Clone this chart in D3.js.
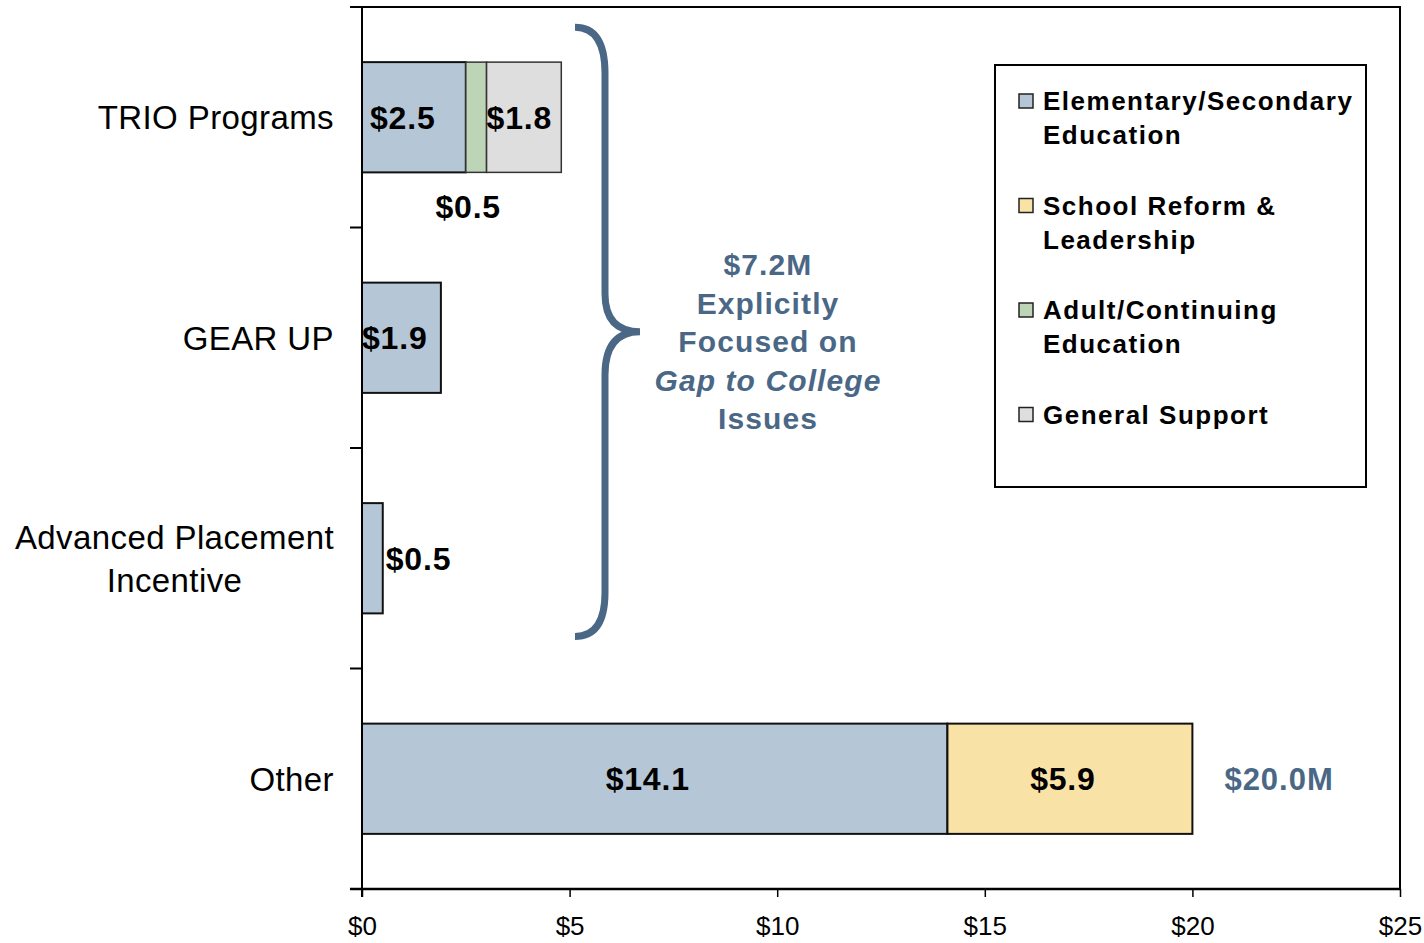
<!DOCTYPE html>
<html>
<head>
<meta charset="utf-8">
<script src="https://cdn.jsdelivr.net/npm/d3@7"></script>
<style>
  html, body { margin: 0; padding: 0; background: #fff; }
  svg text { font-family: 'Liberation Sans', Arial, sans-serif; }
</style>
</head>
<body>
<div id="chart"></div>
<script>
// --- data ---
const categories = ['TRIO Programs', 'GEAR UP', 'Advanced Placement Incentive', 'Other'];
const categoryLines = [['TRIO Programs'], ['GEAR UP'], ['Advanced Placement', 'Incentive'], ['Other']];
const seriesKeys = ['elemSec', 'reform', 'adult', 'general'];
const seriesLabels = [
    ['Elementary/Secondary', 'Education'],
    ['School Reform &', 'Leadership'],
    ['Adult/Continuing', 'Education'],
    ['General Support']
];
const seriesColors = ['#B5C6D6', '#F9E2A6', '#BDD5B6', '#DEDEDE'];
const elemSec = [2.5, 1.9, 0.5, 14.1];
const reform = [0, 0, 0, 5.9];
const adult = [0.5, 0, 0, 0];
const general = [1.8, 0, 0, 0];
const xTicks = [0, 5, 10, 15, 20, 25];
const gapGroups = ['TRIO Programs', 'GEAR UP', 'Advanced Placement Incentive'];

const W = 1424, H = 943;
const margin = {top: 7, right: 24, bottom: 54, left: 362};
const blue = '#4A6886';

const svg = d3.select('#chart').append('svg')
    .attr('width', W).attr('height', H);

const x = d3.scaleLinear().domain([0, 25]).range([margin.left, W - margin.right]);
const y = d3.scaleBand().domain(categories)
    .range([margin.top, H - margin.bottom])
    .paddingInner(0.5).paddingOuter(0.25);

const rows = categories.map((c, i) => ({
    cat: c, elemSec: elemSec[i], reform: reform[i], adult: adult[i], general: general[i]
}));
const stack = d3.stack().keys(seriesKeys)(rows);

// plot frame
svg.append('rect')
    .attr('x', x(0)).attr('y', margin.top)
    .attr('width', x(25) - x(0)).attr('height', H - margin.bottom - margin.top)
    .attr('fill', 'none').attr('stroke', '#000').attr('stroke-width', 2);

// bars
stack.forEach((layer, si) => {
    svg.append('g').selectAll('rect')
        .data(layer.filter(d => d[1] - d[0] > 0))
        .join('rect')
        .attr('x', d => x(d[0]))
        .attr('y', d => y(d.data.cat))
        .attr('width', d => x(d[1]) - x(d[0]))
        .attr('height', y.bandwidth())
        .attr('fill', seriesColors[si])
        .attr('stroke', si >= 2 ? '#333' : '#111')
        .attr('stroke-width', si >= 2 ? 1.5 : 2);
});

// value labels
const fmt = v => '$' + d3.format('.1f')(v);
stack.forEach((layer, si) => {
    layer.filter(d => d[1] - d[0] > 0).forEach(d => {
        const v = d[1] - d[0];
        const x0 = x(d[0]), x1 = x(d[1]);
        const yc = y(d.data.cat) + y.bandwidth() / 2;
        const nSeg = seriesKeys.filter(k => d.data[k] > 0).length;
        let tx, ty = yc, anchor = 'start';
        if (x1 - x0 > 150) { tx = (x0 + x1) / 2 - 7; anchor = 'middle'; }
        else if (x1 - x0 < 40 && nSeg === 1) { tx = x1 + 3; }
        else if (x1 - x0 < 40) { tx = (x0 + x1) / 2 - 8; anchor = 'middle'; ty = y(d.data.cat) + y.bandwidth() + 34; }
        else { tx = x0 + (nSeg > 1 && d[0] === 0 ? 8 : 0); }
        svg.append('text')
            .attr('x', tx).attr('y', ty).attr('dy', '0.36em')
            .attr('text-anchor', anchor)
            .style('font-size', '32px').style('font-weight', 'bold')
            .style('letter-spacing', '0.8px')
            .text(fmt(v));
    });
});

// x axis
const xAxis = svg.append('g')
    .attr('transform', `translate(0,${H - margin.bottom})`)
    .call(d3.axisBottom(x).tickValues(xTicks).tickFormat(d => '$' + d).tickSize(8).tickPadding(20));
xAxis.select('.domain').attr('d', `M${x(0) - 12},0H${x(25)}`).attr('stroke-width', 2.5);
xAxis.selectAll('.tick line').attr('stroke-width', 1.5);
xAxis.selectAll('text').style('font-size', '26px').style('font-family', "'Liberation Sans', Arial, sans-serif").attr('fill', '#000');

// y axis: ticks at band boundaries
const step = y.step();
const bounds = categories.map(c => y(c) - step * 0.25).concat([H - margin.bottom]);
svg.append('g').selectAll('line').data(bounds).join('line')
    .attr('x1', x(0) - 12).attr('x2', x(0))
    .attr('y1', d => d).attr('y2', d => d)
    .attr('stroke', '#000').attr('stroke-width', 2);
svg.append('line')
    .attr('x1', x(0)).attr('x2', x(0))
    .attr('y1', margin.top).attr('y2', H - margin.bottom + 8)
    .attr('stroke', '#000').attr('stroke-width', 2);

// category labels
categoryLines.forEach((lines, i) => {
    const yc = y(categories[i]) + y.bandwidth() / 2;
    const lh = 43;
    const g = svg.append('g');
    const texts = lines.map((ln, j) => g.append('text')
        .attr('y', yc + (j - (lines.length - 1) / 2) * lh).attr('dy', '0.36em')
        .attr('text-anchor', 'middle')
        .style('font-size', '33px')
        .style('letter-spacing', '0.4px')
        .text(ln));
    const maxW = d3.max(texts, t => t.node().getComputedTextLength());
    texts.forEach(t => t.attr('x', 334 - maxW / 2));
});

// brace around the gap-to-college programs
const bTop = y(gapGroups[0]) - 35;
const bBot = y(gapGroups[gapGroups.length - 1]) + y.bandwidth() + 23;
const bMid = (bTop + bBot) / 2;
const bx0 = 575, bx1 = 605, bx2 = 640;
svg.append('path')
    .attr('d', `M${bx0},${bTop} Q${bx1},${bTop} ${bx1},${bTop + 46} L${bx1},${bMid - 38} Q${bx1},${bMid} ${bx2},${bMid} ` +
        `Q${bx1},${bMid} ${bx1},${bMid + 43} L${bx1},${bBot - 44} Q${bx1},${bBot} ${bx0},${bBot}`)
    .attr('fill', 'none').attr('stroke', blue).attr('stroke-width', 7).attr('stroke-linecap', 'butt');

// annotation text
const gapTotal = d3.sum(rows.filter(r => gapGroups.includes(r.cat)), r => r.elemSec + r.reform + r.adult + r.general);
const annoLines = [['$' + gapTotal.toFixed(1) + 'M', false], ['Explicitly', false], ['Focused on', false], ['Gap to College', true], ['Issues', false]];
annoLines.forEach(([t, it], i) => {
    svg.append('text')
        .attr('x', 768).attr('y', 275 + i * 38.5)
        .attr('text-anchor', 'middle')
        .style('font-size', '30px').style('font-weight', 'bold')
        .style('font-style', it ? 'italic' : 'normal')
        .style('letter-spacing', '1.1px')
        .attr('fill', blue)
        .text(t);
});

// Other total
const otherRow = rows[rows.length - 1];
const otherTotal = otherRow.elemSec + otherRow.reform + otherRow.adult + otherRow.general;
svg.append('text')
    .attr('x', x(otherTotal) + 32).attr('y', y('Other') + y.bandwidth() / 2).attr('dy', '0.36em')
    .style('font-size', '31px').style('font-weight', 'bold')
    .style('letter-spacing', '1px')
    .attr('fill', blue)
    .text('$' + otherTotal.toFixed(1) + 'M');

// legend
const lg = svg.append('g');
lg.append('rect')
    .attr('x', 995).attr('y', 65).attr('width', 371).attr('height', 422)
    .attr('fill', '#fff').attr('stroke', '#000').attr('stroke-width', 2);
seriesLabels.forEach((lines, i) => {
    const yc = 101 + i * 104.5;
    lg.append('rect')
        .attr('x', 1019).attr('y', yc - 7).attr('width', 14).attr('height', 14)
        .attr('fill', seriesColors[i]).attr('stroke', '#222').attr('stroke-width', 1.5);
    lines.forEach((ln, j) => {
        lg.append('text')
            .attr('x', 1043).attr('y', yc + 9 + j * 34)
            .style('font-size', '26px').style('font-weight', 'bold')
            .style('letter-spacing', '1.5px')
            .text(ln);
    });
});
</script>
</body>
</html>
